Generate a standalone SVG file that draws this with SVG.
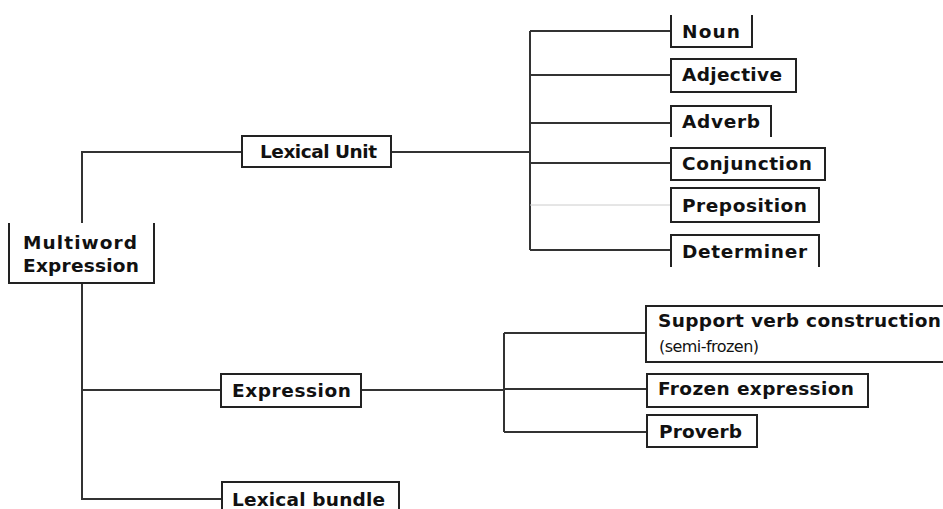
<svg xmlns="http://www.w3.org/2000/svg" width="943" height="509" viewBox="0 0 943 509">
<style>
.b{fill:none;stroke:#222;stroke-width:2}
.c{fill:none;stroke:#333;stroke-width:2}
.f{fill:none;stroke:#ccc;stroke-width:1}
text{font-family:"DejaVu Sans","Verdana",sans-serif;font-size:18.5px;font-weight:bold;fill:#111}
.r{font-weight:normal;font-size:16px}
</style>
<rect width="943" height="509" fill="#fff"/>
<g id="connectors">
<path class="c" d="M82,223 V152 H242"/>
<path class="c" d="M391,152 H530"/>
<path class="c" d="M530,31 V250"/>
<path class="c" d="M530,31 H671 M530,75 H671 M530,123 H671 M530,163 H671 M530,250 H671"/>
<path class="f" d="M530,205 H671"/>
<path class="c" d="M82,283 V499 H222"/>
<path class="c" d="M82,390 H221"/>
<path class="c" d="M361,390 H504"/>
<path class="c" d="M504,333 V432"/>
<path class="c" d="M504,333 H646 M504,389 H646 M504,432 H647"/>
</g>
<g id="mwe"><path class="b" d="M9,223 V283 H154 V223"/><text x="23" y="249" textLength="114" lengthAdjust="spacing">Multiword</text><text x="23" y="272" textLength="116" lengthAdjust="spacing">Expression</text></g>
<g id="lexical-unit"><rect class="b" x="242" y="136" width="149" height="31"/><text x="260" y="158" textLength="117" lengthAdjust="spacing">Lexical Unit</text></g>
<g id="noun"><path class="b" d="M671,15 V47 H752 V15"/><text x="682" y="38" textLength="58" lengthAdjust="spacing">Noun</text></g>
<g id="adjective"><rect class="b" x="671" y="59" width="125" height="33"/><text x="682" y="81" textLength="100" lengthAdjust="spacing">Adjective</text></g>
<g id="adverb"><path class="b" d="M671,137 V106 H771 V137"/><text x="682" y="128" textLength="78" lengthAdjust="spacing">Adverb</text></g>
<g id="conjunction"><rect class="b" x="671" y="148" width="154" height="32"/><text x="682" y="170" textLength="130" lengthAdjust="spacing">Conjunction</text></g>
<g id="preposition"><rect class="b" x="671" y="188" width="148" height="34"/><text x="682" y="212" textLength="125" lengthAdjust="spacing">Preposition</text></g>
<g id="determiner"><path class="b" d="M671,267 V235 H819 V267"/><text x="682" y="258" textLength="125" lengthAdjust="spacing">Determiner</text></g>
<g id="expression"><rect class="b" x="221" y="374" width="140" height="33"/><text x="232" y="397" textLength="119" lengthAdjust="spacing">Expression</text></g>
<g id="lexical-bundle"><path class="b" d="M222,510 V482 H399 V510"/><text x="232" y="506" textLength="153" lengthAdjust="spacing">Lexical bundle</text></g>
<g id="support-verb"><path class="b" d="M944,306 H646 V362 H944"/><text x="658" y="327" textLength="283" lengthAdjust="spacing">Support verb construction</text><text class="r" x="659" y="352" textLength="100" lengthAdjust="spacing">(semi-frozen)</text></g>
<g id="frozen"><rect class="b" x="647" y="374" width="221" height="33"/><text x="658" y="395" textLength="196" lengthAdjust="spacing">Frozen expression</text></g>
<g id="proverb"><rect class="b" x="647" y="415" width="110" height="32"/><text x="659" y="438" textLength="83" lengthAdjust="spacing">Proverb</text></g>
</svg>
